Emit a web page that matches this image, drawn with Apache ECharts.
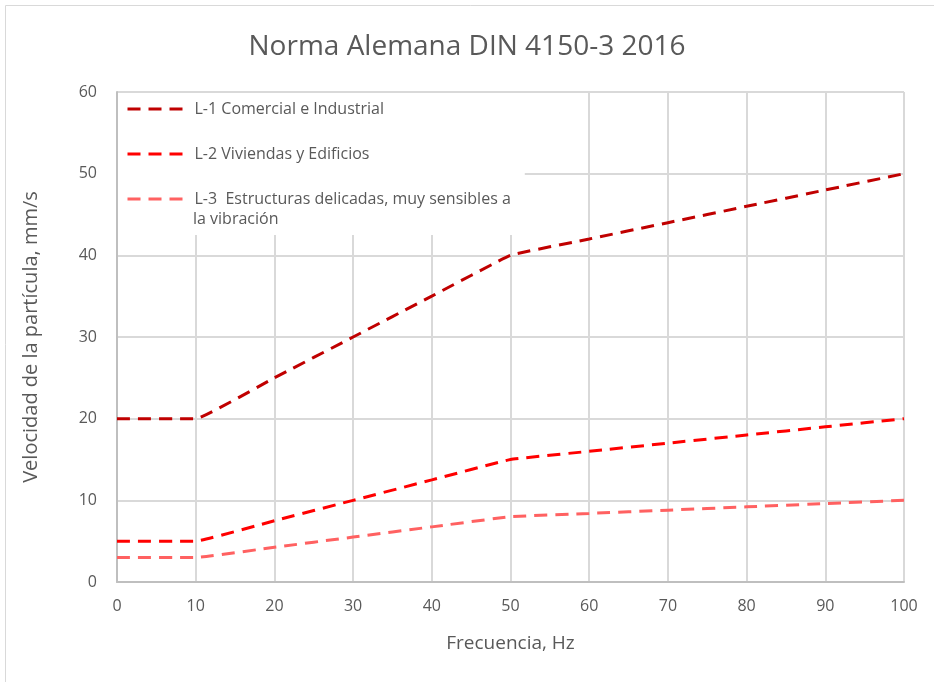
<!DOCTYPE html>
<html>
<head>
<meta charset="utf-8">
<script src="https://cdn.jsdelivr.net/npm/echarts@6/dist/echarts.min.js"></script>
<style>
  html, body { margin: 0; padding: 0; background: #fff; }
  #chart { width: 934px; height: 682px; }
</style>
</head>
<body>
<div id="chart"></div>
<script>
const freq = [0, 10, 20, 30, 40, 50, 60, 70, 80, 90, 100];
const l1 = [20, 20, 25, 30, 35, 40, 42, 44, 46, 48, 50];
const l2 = [5, 5, 7.5, 10, 12.5, 15, 16, 17, 18, 19, 20];
const l3 = [3, 3, 4.25, 5.5, 6.75, 8, 8.4, 8.8, 9.2, 9.6, 10];
const names = [
  'L-1 Comercial e Industrial',
  'L-2 Viviendas y Edificios',
  'L-3  Estructuras delicadas, muy sensibles a'
];
// second line of the L-3 legend label (Excel wraps it under the text)
const l3Wrap = 'la vibración';
const colors = ['#C00000', '#FF0000', '#FF6161'];

const font = '"Open Sans", sans-serif';
const textColor = '#595959';

const pairs = (ys) => freq.map((x, i) => [x, ys[i]]);

const makeSeries = (name, ys, color) => ({
  name: name,
  type: 'line',
  data: pairs(ys),
  smooth: 0.08,
  showSymbol: false,
  symbol: 'none',
  lineStyle: { color: color, width: 3, type: [13, 8] },
  itemStyle: { color: color }
});

const chart = echarts.init(document.getElementById('chart'));
chart.setOption({
  animation: false,
  textStyle: { fontFamily: font },
  title: {
    text: 'Norma Alemana DIN 4150-3 2016',
    left: 'center',
    top: 28,
    textStyle: { fontFamily: font, fontSize: 28, fontWeight: 'normal', color: textColor }
  },
  graphic: [{
    type: 'rect',
    shape: { x: 5.5, y: 5.5, width: 1000, height: 1000 },
    style: { fill: 'none', stroke: '#d9d9d9', lineWidth: 1 },
    silent: true
  }, {
    type: 'text',
    left: 193,
    top: 211,
    z: 100,
    silent: true,
    style: { text: l3Wrap, font: '16px "Open Sans", sans-serif', fill: textColor }
  }],
  legend: {
    orient: 'vertical',
    left: 118,
    top: 93,
    padding: [4, 14, 24, 8],
    backgroundColor: '#fff',
    itemWidth: 62,
    itemHeight: 14,
    itemGap: 21,
    itemStyle: { opacity: 0 },
    lineStyle: { width: 3 },
    textStyle: { fontFamily: font, fontSize: 16, color: textColor, lineHeight: 24 },
    data: names
  },
  grid: { left: 117, right: 30, top: 92, bottom: 100 },
  xAxis: {
    type: 'value',
    min: 0,
    max: 100,
    interval: 10,
    name: 'Frecuencia, Hz',
    nameLocation: 'middle',
    nameGap: 52,
    nameTextStyle: { fontFamily: font, fontSize: 19, color: textColor },
    axisLine: { show: true, lineStyle: { color: '#bfbfbf', width: 2 } },
    axisTick: { show: false },
    axisLabel: { fontFamily: font, fontSize: 16, color: textColor, margin: 16 },
    splitLine: { show: true, lineStyle: { color: '#d9d9d9', width: 2 } }
  },
  yAxis: {
    type: 'value',
    min: 0,
    max: 60,
    interval: 10,
    name: 'Velocidad de la partícula, mm/s',
    nameLocation: 'middle',
    nameGap: 76,
    nameTextStyle: { fontFamily: font, fontSize: 20, color: textColor },
    axisLine: { show: true, lineStyle: { color: '#bfbfbf', width: 2 } },
    axisTick: { show: false },
    axisLabel: { fontFamily: font, fontSize: 16, color: textColor, margin: 20 },
    splitLine: { show: true, lineStyle: { color: '#d9d9d9', width: 2 } }
  },
  series: [
    makeSeries(names[0], l1, colors[0]),
    makeSeries(names[1], l2, colors[1]),
    makeSeries(names[2], l3, colors[2])
  ]
});
</script>
</body>
</html>
